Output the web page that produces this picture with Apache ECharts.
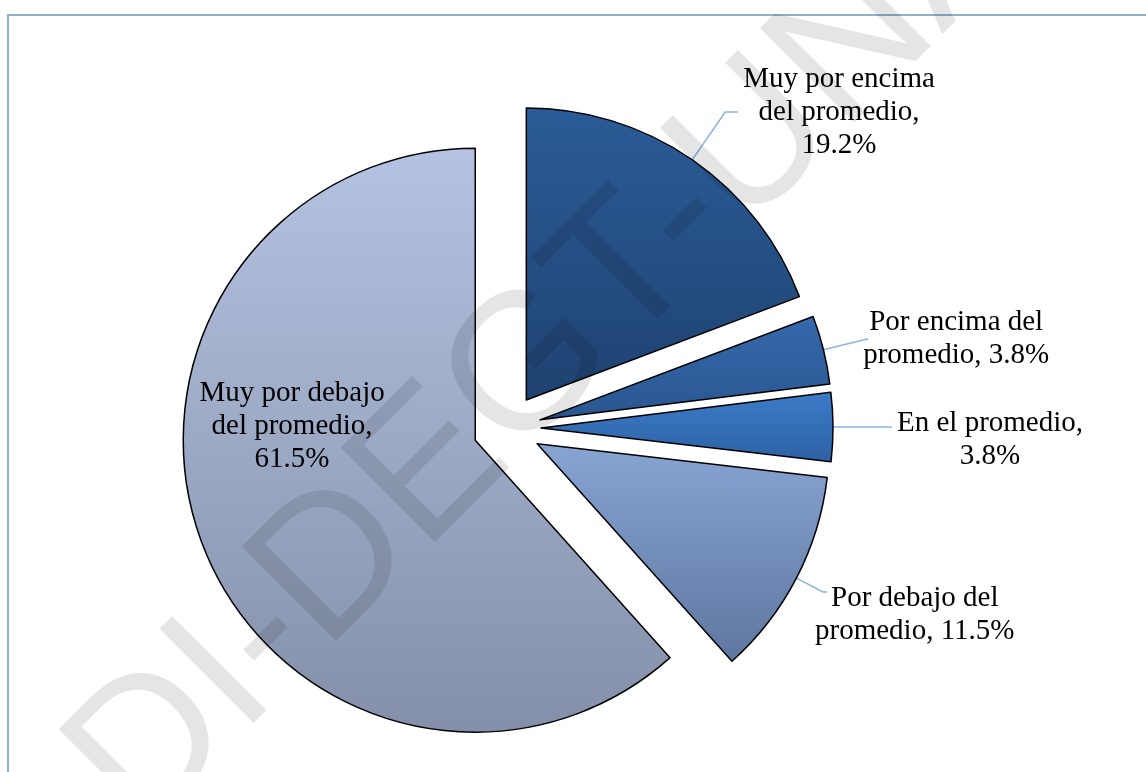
<!DOCTYPE html>
<html>
<head>
<meta charset="utf-8">
<script src="https://cdn.jsdelivr.net/npm/echarts@6/dist/echarts.min.js"></script>
<style>
html, body { margin: 0; padding: 0; background: #fff; }
#chart { width: 1146px; height: 772px; }
</style>
</head>
<body>
<div id="chart"></div>
<script>
// categorias y porcentajes
const categories = ['Muy por encima del promedio', 'Por encima del promedio', 'En el promedio', 'Por debajo del promedio', 'Muy por debajo del promedio'];
const values = [19.2, 3.8, 3.8, 11.5, 61.5];
// texto de etiqueta (cortes de linea como en el original)
const labelHeads = [['Muy por encima', 'del promedio,'], ['Por encima del'], ['En el promedio,'], ['Por debajo del'], ['Muy por debajo', 'del promedio,']];
const labelTails = ['', 'promedio, ', '', 'promedio, ', ''];
// degradado de cada porcion (arriba -> abajo)
const topColors = ['#2b5c97', '#3569ac', '#3c7bc8', '#88a4d3', '#b4c3e1'];
const bottomColors = ['#1f4271', '#2a5690', '#2d62a4', '#5f77a0', '#8490a9'];
// guias de etiqueta: largo 1, largo 2, distancia, padding
const guideLen = [58, 44, 10, 30, 0];
const guideLen2 = [13, 2, 49, 4, 0];
const guideGap = [5, -5, 5, -12, 0];
const labelPad = [[0, 0, 0, 0], [0, 0, 0, 0], [26, 0, 0, 0], [46, 0, 0, 0], [0, 88, 134, 0]];

var serif = '"Liberation Serif", "Times New Roman", serif';
var myChart = echarts.init(document.getElementById('chart'));
var option;

option = {
    animation: false,
    backgroundColor: '#fff',
    graphic: [{
        type: 'rect',
        shape: { x: 8, y: 15, width: 1200, height: 800 },
        style: { fill: 'none', stroke: '#8cb4c8', lineWidth: 2 },
        z: 1
    }, {
        type: 'text',
        x: 104,
        y: 797,
        rotation: Math.PI / 4,
        z: 100,
        silent: true,
        style: {
            text: 'DI-DEGT-UNAH',
            font: '194px "Liberation Sans"',
            fill: 'rgba(0,0,0,0.1)',
            align: 'left',
            verticalAlign: 'middle'
        }
    }],
    series: [{
        type: 'pie',
        center: [507, 428],
        radius: 292,
        startAngle: 90,
        clockwise: true,
        selectedMode: 'multiple',
        selectedOffset: 34,
        avoidLabelOverlap: false,
        emphasis: { scale: false },
        itemStyle: { borderColor: '#000', borderWidth: 1.5 },
        select: { itemStyle: { borderColor: '#000', borderWidth: 1.5 } },
        label: {
            show: true,
            position: 'outside',
            alignTo: 'none',
            color: '#000',
            fontFamily: serif,
            fontSize: 29,
            lineHeight: 33,
            rich: {
                c: { align: 'center', fontFamily: serif, fontSize: 29, lineHeight: 33, color: '#000' }
            },
            formatter: function (p) {
                var i = p.dataIndex;
                var lines = labelHeads[i].slice();
                lines.push(labelTails[i] + p.value.toFixed(1) + '%');
                return lines.map(function (s) { return '{c|' + s + '}'; }).join('\n');
            }
        },
        labelLine: {
            show: true,
            smooth: false,
            lineStyle: { color: '#8db3e2', width: 1.5 }
        },
        data: values.map(function (v, i) {
            var item = {
                name: categories[i],
                value: v,
                selected: true,
                itemStyle: {
                    color: new echarts.graphic.LinearGradient(0, 0, 0, 1, [
                        { offset: 0, color: topColors[i] },
                        { offset: 1, color: bottomColors[i] }
                    ])
                },
                label: { padding: labelPad[i], distanceToLabelLine: guideGap[i] },
                labelLine: { length: guideLen[i], length2: guideLen2[i] }
            };
            if (i === 4) {
                item.label.position = 'inside';
                item.labelLine = { show: false };
            }
            return item;
        })
    }]
};

option && myChart.setOption(option);
</script>
</body>
</html>
